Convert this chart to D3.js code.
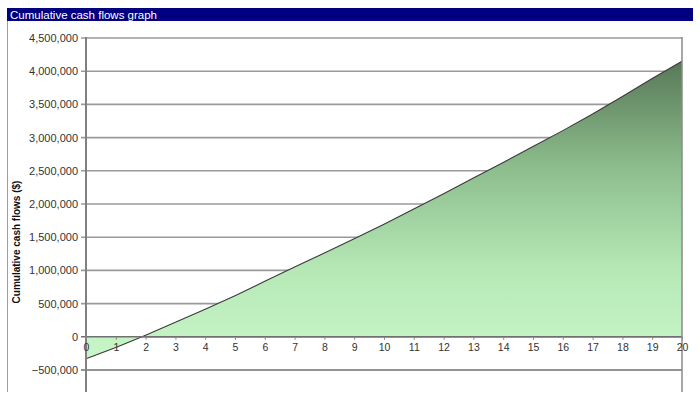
<!DOCTYPE html>
<html>
<head>
<meta charset="utf-8">
<script src="https://cdn.jsdelivr.net/npm/d3@7"></script>
<style>
  body { margin: 0; background: #fff; }
  text { font-family: "Liberation Sans", Arial, sans-serif; }
</style>
</head>
<body>
<svg id="chart"></svg>
<script>
var width = 700;
var height = 406;

var years = [0, 1, 2, 3, 4, 5, 6, 7, 8, 9, 10, 11, 12, 13, 14, 15, 16, 17, 18, 19, 20];
var cumulative = [-330000, -160000, 25000, 220000, 415000, 620000, 835000, 1050000, 1262000, 1475000,
                  1695000, 1925000, 2155000, 2390000, 2625000, 2865000, 3105000, 3355000, 3620000, 3890000, 4150000];
var yTicks = [-500000, 0, 500000, 1000000, 1500000, 2000000, 2500000, 3000000, 3500000, 4000000, 4500000];

var margin = { top: 38, right: 18, bottom: 14, left: 86 };

var xScale = d3.scaleLinear().domain([0, 20]).range([margin.left, width - margin.right]);
// bottom of plot area sits a bit below -500,000
var yScale = d3.scaleLinear().domain([-500000, 4500000]).range([370, margin.top]);
var yBottom = 392;

var svg = d3.select("#chart")
            .attr("width", width)
            .attr("height", height);

// title bar and frame
svg.append("rect")
    .attr("x", 7).attr("y", 8)
    .attr("width", 686).attr("height", 13)
    .attr("fill", "#000080");
svg.append("text")
    .attr("x", 10).attr("y", 18.5)
    .attr("fill", "#fff")
    .style("font-size", "11.5px")
    .text("Cumulative cash flows graph");
svg.append("line")
    .attr("x1", 7.5).attr("x2", 7.5)
    .attr("y1", 21).attr("y2", yBottom)
    .attr("stroke", "#a0a0a0");

// gridlines
svg.append("g")
    .selectAll("line")
    .data(yTicks)
    .enter().append("line")
      .attr("x1", margin.left - 5)
      .attr("x2", xScale(20))
      .attr("y1", function(d) { return yScale(d); })
      .attr("y2", function(d) { return yScale(d); })
      .attr("stroke", function(d) { return d <= 0 ? "#707070" : "#9a9a9a"; })
      .attr("stroke-width", 1.6);

// gradient fill
var defs = svg.append("defs");
var grad = defs.append("linearGradient")
    .attr("id", "fillGrad")
    .attr("gradientUnits", "userSpaceOnUse")
    .attr("x1", 0).attr("x2", 0)
    .attr("y1", yScale(d3.min(cumulative)))
    .attr("y2", yScale(d3.max(cumulative)));
grad.append("stop").attr("offset", "0%").attr("stop-color", "#c8f6c8");
grad.append("stop").attr("offset", "30%").attr("stop-color", "#b6e8b6");
grad.append("stop").attr("offset", "65%").attr("stop-color", "#8cbc8c");
grad.append("stop").attr("offset", "100%").attr("stop-color", "#587858");

var area = d3.area()
    .x(function(d, i) { return xScale(years[i]); })
    .y0(yScale(0))
    .y1(function(d) { return yScale(d); });

svg.append("path")
    .datum(cumulative)
    .attr("d", area)
    .attr("fill", "url(#fillGrad)");

var line = d3.line()
    .x(function(d, i) { return xScale(years[i]); })
    .y(function(d) { return yScale(d); });

svg.append("path")
    .datum(cumulative)
    .attr("d", line)
    .attr("fill", "none")
    .attr("stroke", "#3a3a3a")
    .attr("stroke-width", 1.1);

// zero line again on top of the fill
svg.append("line")
    .attr("x1", margin.left).attr("x2", xScale(20))
    .attr("y1", yScale(0)).attr("y2", yScale(0))
    .attr("stroke", "#707070")
    .attr("stroke-width", 1.6);

// y axis
var yAxis = d3.axisLeft(yScale)
    .tickValues(yTicks)
    .tickSize(0)
    .tickPadding(8)
    .tickFormat(d3.format(","));

svg.append("g")
    .attr("transform", "translate(" + margin.left + ",0)")
    .call(yAxis)
    .call(function(g) { g.select(".domain").remove(); })
    .selectAll("text")
      .attr("fill", "#333")
      .style("font-size", "11px");

svg.append("line")
    .attr("x1", margin.left).attr("x2", margin.left)
    .attr("y1", margin.top - 1).attr("y2", yBottom)
    .attr("stroke", "#808080")
    .attr("stroke-width", 2);
svg.append("line")
    .attr("x1", xScale(20)).attr("x2", xScale(20))
    .attr("y1", margin.top - 1).attr("y2", yBottom)
    .attr("stroke", "#8a8a8a")
    .attr("stroke-width", 1.5);

// x axis on the zero line
var xAxis = d3.axisBottom(xScale)
    .tickValues(years)
    .tickSize(3)
    .tickPadding(4)
    .tickFormat(d3.format("d"));

var gx = svg.append("g")
    .attr("transform", "translate(0," + yScale(0) + ")")
    .call(xAxis);
gx.select(".domain").remove();
gx.selectAll(".tick line").attr("stroke", "#888");
gx.selectAll("text")
    .attr("fill", "#333")
    .style("font-size", "10.5px");

svg.append("text")
    .attr("transform", "translate(20," + 242 + ") rotate(-90)")
    .attr("text-anchor", "middle")
    .attr("fill", "#111")
    .style("font-size", "10px")
    .style("font-weight", "bold")
    .text("Cumulative cash flows ($)");
</script>
</body>
</html>
